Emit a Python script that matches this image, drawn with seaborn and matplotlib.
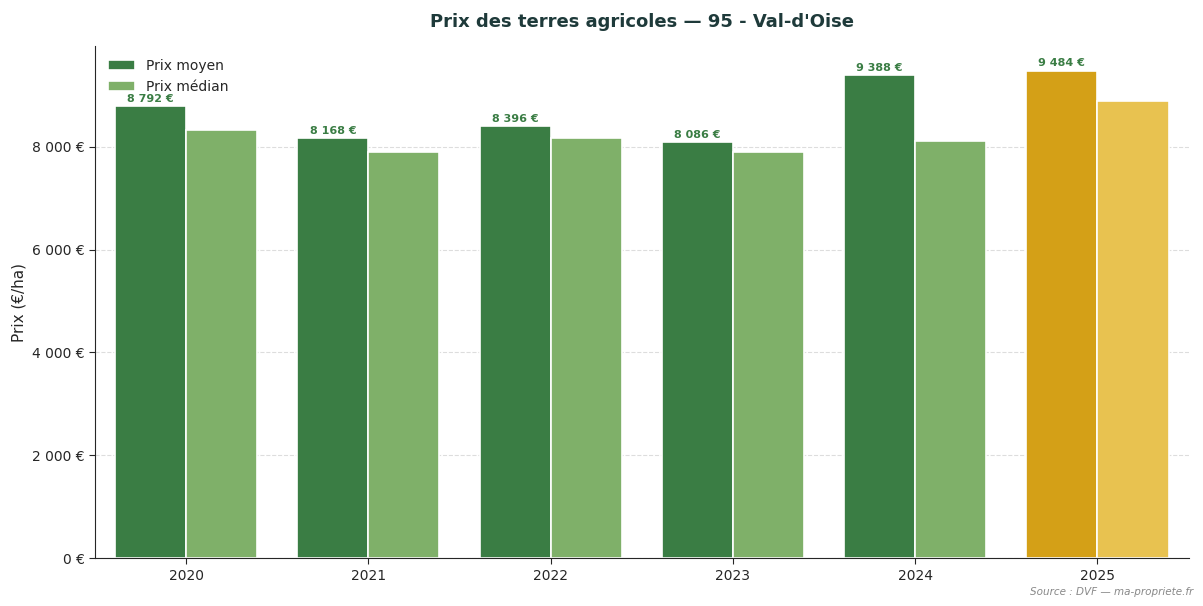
import matplotlib
matplotlib.use("Agg")
import matplotlib.pyplot as plt
import seaborn as sns
import pandas as pd

years = ["2020", "2021", "2022", "2023", "2024", "2025"]
prix_moyen = [8792, 8168, 8396, 8086, 9388, 9484]
prix_median = [8330, 7905, 8175, 7900, 8115, 8895]

df = pd.DataFrame({
    "Année": years * 2,
    "Prix": prix_moyen + prix_median,
    "Série": ["Prix moyen"] * len(years) + ["Prix médian"] * len(years),
})

sns.set_style("white")
fig, ax = plt.subplots(figsize=(12.03, 6.06), dpi=100)
sns.barplot(data=df, x="Année", y="Prix", hue="Série", ax=ax,
            palette=["#3a7d44", "#7fb069"], width=0.78,
            edgecolor="white", linewidth=1.2, saturation=1)

# highlight last year
n = len(years)
bars = [p for p in ax.patches if p.get_height() > 0]
bars[n - 1].set_facecolor("#d4a017")
bars[2 * n - 1].set_facecolor("#e8c250")

def fmt(v):
    return f"{v:,.0f}".replace(",", " ")

for i, p in enumerate(bars[:n]):
    ax.text(p.get_x() + p.get_width() / 2, p.get_height() + 40,
            f"{fmt(prix_moyen[i])} €", ha="center", va="bottom",
            fontsize=8, fontweight="bold", color="#3a7d44")

ax.set_ylim(0, 9960)
ax.set_yticks([0, 2000, 4000, 6000, 8000])
ax.set_yticklabels([f"{fmt(v)} €" for v in [0, 2000, 4000, 6000, 8000]])
ax.yaxis.grid(True, linestyle="--", color="#dddddd", linewidth=0.8)
ax.set_axisbelow(True)
ax.tick_params(axis="both", length=4, left=True, bottom=True)
ax.set_xlabel("")
ax.set_ylabel("Prix (€/ha)", fontsize=11)
ax.set_title("Prix des terres agricoles — 95 - Val-d'Oise", fontsize=13,
             fontweight="bold", color="#1e3a3a", pad=14)
sns.despine(ax=ax)
ax.legend(title=None, frameon=False, loc="upper left", fontsize=10)
fig.text(0.992, 0.018, "Source : DVF — ma-propriete.fr", ha="right",
         fontsize=7.5, style="italic", color="#888888")
fig.subplots_adjust(left=0.079, right=0.988, top=0.924, bottom=0.079)
fig.savefig("out.png", dpi=100)
